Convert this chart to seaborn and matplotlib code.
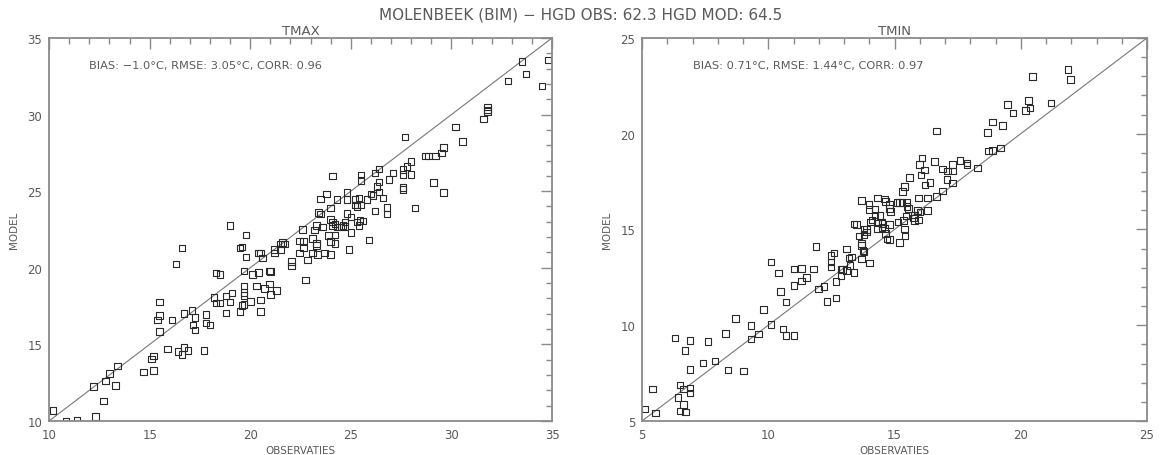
import matplotlib
matplotlib.use("Agg")
import matplotlib.pyplot as plt
from matplotlib.ticker import MultipleLocator
import numpy as np
import pandas as pd
import seaborn as sns

tmax_obs = [10.2, 10.85, 11.4, 12.3, 12.2, 12.8, 13.0, 12.7, 13.3, 13.4, 14.7, 15.1, 15.2, 15.2,
            15.4, 15.5, 15.5, 15.5, 15.9, 16.1, 16.3, 16.4, 16.6, 16.6, 16.7, 16.9, 16.7, 17.1,
            17.15, 17.25, 17.25, 17.7, 17.8, 17.8, 18.0, 18.2, 18.3, 18.3, 18.5, 18.5, 18.8, 18.8,
            19.0, 19.0, 19.1, 19.5, 19.5, 19.6, 19.6, 19.7, 19.7, 19.7, 19.7, 19.8, 19.8, 19.7,
            20.0, 20.1, 20.3, 20.4, 20.4, 20.5, 20.5, 20.5, 20.6, 20.7, 20.95, 20.95, 21.0, 21.0,
            21.2, 21.2, 21.3, 21.5, 21.5, 21.6, 21.7, 22.05, 22.05, 22.45, 22.6, 22.45, 22.65,
            22.65, 22.75, 22.85,
            23.1, 23.1, 23.2, 23.3, 23.3, 23.3, 23.35, 23.6, 23.7, 23.9, 24.0, 24.0, 24.1, 24.2,
            24.2, 24.1, 24.3, 24.5, 24.7, 24.7, 24.9, 25.0, 25.3, 25.4, 25.9,
            24.1, 25.5, 25.5, 26.2, 26.4, 26.4, 26.3, 26.9, 27.1, 23.8, 23.5, 24.3, 24.8, 24.8,
            25.2, 25.4, 25.2, 25.3, 25.5, 25.8, 26.0, 26.1, 26.4, 26.6, 26.2, 26.8, 26.8, 24.0,
            23.4, 23.5, 24.8, 25.0, 25.45, 25.6, 24.0, 24.2, 24.6,
            27.7, 27.6, 27.8, 28.0, 28.7, 28.85, 29.2, 29.5, 29.6, 27.6, 28.0, 27.6, 27.6, 29.1,
            29.6, 28.2, 30.2, 30.55, 31.6, 31.8, 31.8, 31.8, 32.8, 33.5, 33.7, 34.5, 34.8]
tmax_mod = [10.7, 9.95, 10.05, 10.3, 12.25, 12.6, 13.1, 11.3, 12.3, 13.6, 13.2, 14.05, 14.25, 13.3,
            16.6, 16.9, 17.75, 15.85, 14.7, 16.6, 20.25, 14.55, 21.3, 14.35, 14.8, 14.6, 17.0, 17.2,
            16.25, 16.75, 15.95, 14.6, 16.95, 16.4, 16.25, 18.05, 19.65, 17.7, 19.55, 17.7, 17.05, 18.15,
            22.75, 17.75, 18.35, 17.15, 21.3, 21.35, 17.55, 18.8, 18.4, 18.2, 19.8, 22.15, 20.7, 17.6,
            17.8, 19.55, 18.8, 19.7, 20.95, 20.95, 17.9, 17.15, 20.65, 18.65, 18.95, 19.8, 19.75, 18.25,
            21.2, 20.95, 18.5, 21.2, 21.55, 21.65, 21.55, 20.4, 20.1, 20.95, 22.5, 21.75, 21.75,
            21.3, 19.2, 20.5,
            21.9, 20.95, 22.45, 22.75, 21.6, 21.45, 20.85, 22.65, 20.95, 22.1, 21.7, 20.85, 22.75, 22.15,
            21.6, 23.0, 22.65, 22.65, 22.7, 23.0, 21.2, 22.3, 23.0, 22.75, 21.8,
            26.0, 26.05, 25.7, 26.2, 26.45, 25.6, 25.3, 25.75, 26.2, 24.8, 24.5, 24.45, 24.9, 24.45,
            24.45, 24.55, 24.1, 24.0, 24.1, 24.45, 24.8, 24.7, 24.95, 24.55, 23.7, 23.95, 23.5, 23.9,
            23.6, 23.5, 23.55, 23.3, 23.1, 23.05, 23.15, 22.85, 22.75,
            28.55, 26.4, 26.6, 26.95, 27.3, 27.3, 27.3, 27.5, 27.85, 26.1, 26.1, 25.25, 25.1, 25.55,
            24.9, 23.9, 29.2, 28.25, 29.7, 30.5, 30.3, 30.2, 32.2, 33.45, 32.65, 31.85, 33.55]

# TMIN: (observed, model) pairs
tmin_obs = [5.12, 5.54, 5.42, 6.31, 6.43, 6.5, 6.5, 6.7, 6.64, 6.64, 6.73, 6.9, 6.9, 6.9, 6.9,
            7.42, 7.61, 7.9, 8.3, 8.41, 8.71, 9.01, 9.32, 9.32, 9.61, 9.81, 10.11, 10.11, 10.41,
            10.49, 10.58, 10.7, 10.7, 11.02, 11.02, 11.02, 11.31, 11.31, 11.52, 11.8, 11.9, 12.0,
            12.2, 12.33, 12.49, 12.49, 12.49, 12.6, 12.68, 12.68, 12.88, 12.88, 12.95, 13.1, 13.1,
            13.2, 13.24, 13.3, 13.4, 13.4, 13.5, 13.6, 13.7, 13.7, 13.7, 13.75, 13.79, 13.8, 13.8,
            13.9, 13.9, 14.0, 14.05, 14.32, 14.35, 14.5, 14.6, 14.65, 14.7,
            13.7, 13.99, 13.99, 14.1, 14.23, 14.23, 14.32, 14.43, 14.5, 14.5, 14.6, 14.65, 14.8,
            14.8, 14.85, 14.8, 14.8, 15.1, 15.2, 15.3, 15.14, 15.19, 15.35, 15.4, 15.42, 15.45,
            15.5, 15.5, 15.55, 15.75, 15.8, 15.8, 15.92, 15.96, 15.95, 16.0, 16.3, 16.31, 15.31,
            15.39, 15.59, 15.98, 16.08, 16.04, 16.19, 16.2, 16.41, 16.59, 16.67, 16.91, 17.07,
            17.29, 16.91, 17.1, 17.3, 17.3, 17.59, 17.88, 17.88, 18.28, 16.67,
            18.68, 18.73, 18.89, 19.2, 18.89, 19.27, 19.48, 19.69, 20.3, 20.37, 20.18, 21.19,
            20.47, 21.88, 21.98]
tmin_mod = [5.63, 5.42, 6.67, 9.33, 6.22, 6.88, 5.52, 8.69, 6.67, 5.85, 5.47, 9.19, 7.68, 6.71, 6.46,
            8.03, 9.14, 8.12, 9.56, 7.65, 10.36, 7.61, 9.98, 9.28, 9.54, 10.81, 10.05, 13.29, 12.73,
            11.75, 9.8, 11.2, 9.45, 9.45, 12.07, 12.94, 12.97, 12.31, 12.5, 12.94, 14.1, 11.89,
            12.03, 11.23, 13.63, 13.29, 13.03, 13.76, 12.27, 11.42, 12.94, 12.56, 12.9, 13.98, 12.85,
            13.5, 13.11, 13.55, 12.76, 15.29, 15.25, 14.65, 14.28, 14.15, 13.45, 13.9, 15.03, 13.85, 14.75,
            14.88, 15.0, 13.24, 15.4, 15.06, 15.35, 15.3, 15.05, 14.8, 14.5,
            16.52, 16.3, 16.05, 15.5, 15.75, 16.05, 16.64, 15.72, 15.1, 15.4, 16.6, 16.45, 16.1,
            16.3, 15.95, 15.25, 14.47, 16.4, 16.4, 16.4, 15.4, 14.33, 15.46, 15.03, 14.65, 15.7,
            16.2, 16.4, 16.1, 15.6, 15.76, 15.45, 16.0, 15.5, 16.65, 15.9, 16.0, 16.64, 16.97,
            17.25, 17.7, 18.4, 18.72, 17.85, 18.1, 17.32, 17.46, 18.54, 16.73, 17.01, 17.6,
            17.43, 18.16, 18.04, 18.04, 18.4, 18.59, 18.47, 18.37, 18.2, 20.14,
            20.07, 19.1, 19.12, 19.26, 20.6, 20.42, 21.52, 21.07, 21.73, 21.35, 21.2, 21.6,
            23.0, 23.34, 22.82]

panel_titles = ["TMAX", "TMIN"]
panel_limits = [(10, 35), (5, 25)]
panel_stats = ["BIAS: \u22121.0\u00b0C, RMSE: 3.05\u00b0C, CORR: 0.96",
               "BIAS: 0.71\u00b0C, RMSE: 1.44\u00b0C, CORR: 0.97"]
stats_x = [0.08, 0.10]
suptitle = "MOLENBEEK (BIM) \u2212 HGD OBS: 62.3 HGD MOD: 64.5"

sns.set_theme(style="white")
plt.rcParams["font.family"] = ["DejaVu Sans"]
TXT = "#5a5a5a"
AXC = "#8a8a8a"

fig = plt.figure(figsize=(11.62, 4.56), dpi=100)
ax1 = fig.add_axes([0.0422, 0.0746, 0.4329, 0.840])
ax2 = fig.add_axes([0.5525, 0.0746, 0.4346, 0.840])

datasets = [(tmax_obs, tmax_mod), (tmin_obs, tmin_mod)]
for ax, (obs, mod), title, (lo, hi), stats, sx in zip([ax1, ax2], datasets, panel_titles,
                                                        panel_limits, panel_stats, stats_x):
    df = pd.DataFrame({"obs": obs, "mod": mod})
    ax.plot([lo, hi], [lo, hi], color="#777777", lw=0.8, zorder=1)
    sns.scatterplot(data=df, x="obs", y="mod", ax=ax, marker="s", s=22,
                    facecolors="none", edgecolor="#2a2a2a", linewidth=0.8, zorder=2)
    ax.set_xlim(lo, hi)
    ax.set_ylim(lo, hi)
    ax.xaxis.set_major_locator(MultipleLocator(5))
    ax.yaxis.set_major_locator(MultipleLocator(5))
    ax.xaxis.set_minor_locator(MultipleLocator(1))
    ax.yaxis.set_minor_locator(MultipleLocator(1))
    ax.tick_params(which="both", direction="in", top=True, right=True,
                   color=AXC, labelcolor=TXT, labelsize=8.5, width=1)
    ax.tick_params(which="major", length=8, pad=5)
    ax.tick_params(which="minor", length=4)
    for sp in ax.spines.values():
        sp.set_color(AXC)
        sp.set_linewidth(1.3)
    ax.set_xlabel("OBSERVATIES", fontsize=7.5, color=TXT, labelpad=3)
    ax.set_ylabel("MODEL", fontsize=7.5, color=TXT, labelpad=6)
    ax.set_title(title, fontsize=9.5, color=TXT, pad=3)
    ax.text(sx, 0.93, stats, transform=ax.transAxes,
            fontsize=8.2, color=TXT, va="center", ha="left")

fig.text(0.5, 0.968, suptitle, ha="center", va="center", fontsize=11, color=TXT)

fig.savefig("out.png", dpi=100)
